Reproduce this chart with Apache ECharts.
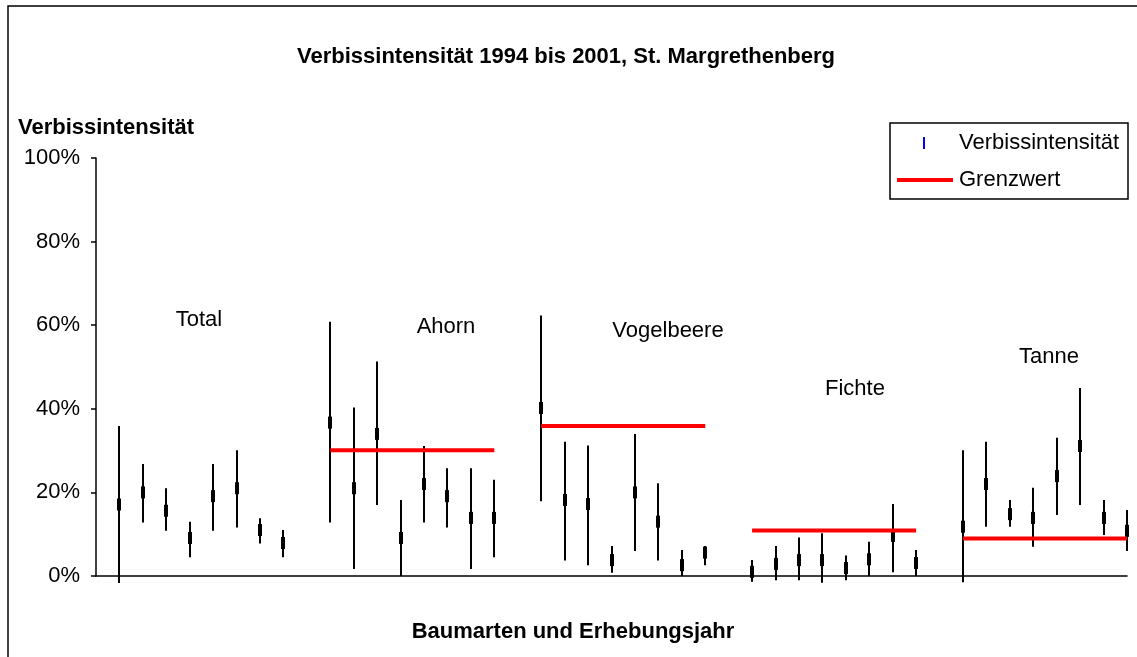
<!DOCTYPE html>
<html lang="de">
<head>
    <meta charset="UTF-8">
    <title>Verbissintensität</title>
    <script src="https://cdn.jsdelivr.net/npm/echarts@6/dist/echarts.min.js"></script>
    <style>
        html, body { margin: 0; padding: 0; background: #fff; }
        #container { width: 1137px; height: 657px; }
    </style>
</head>
<body>
<div id="container"></div>
<script type="text/javascript">
// Baumarten, je 8 Erhebungsjahre (1994 - 2001)
var groups = ['Total', 'Ahorn', 'Vogelbeere', 'Fichte', 'Tanne'];
var years = ['1994', '1995', '1996', '1997', '1998', '1999', '2000', '2001'];

// Verbissintensität in %: hoch / tief / Mittelwert
var highTotal = [35.9, 26.8, 21.0, 13.0, 26.8, 30.1, 13.8, 11.0];
var lowTotal = [-1.7, 12.8, 10.8, 4.5, 10.8, 11.6, 7.8, 4.5];
var meanTotal = [17.1, 20.0, 15.6, 9.1, 19.1, 21.0, 11.0, 7.9];

var highAhorn = [60.8, 40.3, 51.3, 18.2, 31.1, 25.8, 25.8, 23.0];
var lowAhorn = [12.8, 1.7, 17.0, 0.0, 12.8, 11.6, 1.7, 4.5];
var meanAhorn = [36.7, 21.0, 34.0, 9.1, 22.0, 19.1, 13.9, 13.9];

var highVogelbeere = [62.3, 32.1, 31.2, 7.2, 34.0, 22.2, 6.2, 7.2];
var lowVogelbeere = [17.9, 3.7, 2.6, 0.8, 6.0, 3.7, 0.0, 2.6];
var meanVogelbeere = [40.2, 18.2, 17.2, 3.8, 20.0, 13.0, 2.6, 5.6];

var highFichte = [3.8, 7.2, 9.2, 10.2, 4.9, 8.2, 17.2, 6.2];
var lowFichte = [-1.4, -1.0, -1.0, -1.6, -1.0, 0.0, 0.9, 0.0];
var meanFichte = [1.0, 2.9, 3.8, 3.8, 1.9, 4.0, 9.6, 3.1];

var highTanne = [30.1, 32.1, 18.2, 21.1, 33.1, 45.0, 18.2, 15.8];
var lowTanne = [-1.5, 11.8, 11.8, 7.0, 14.6, 17.0, 9.8, 6.0];
var meanTanne = [11.8, 22.0, 14.8, 13.9, 23.9, 31.1, 13.9, 10.8];

// Grenzwert pro Baumart (Total ohne)
var grenzwert = [null, 30.1, 35.9, 10.9, 9.0];

var yTicks = [0, 20, 40, 60, 80, 100];

var highs = [highTotal, highAhorn, highVogelbeere, highFichte, highTanne];
var lows = [lowTotal, lowAhorn, lowVogelbeere, lowFichte, lowTanne];
var means = [meanTotal, meanAhorn, meanVogelbeere, meanFichte, meanTanne];

// Kategorien: eine leere am Anfang, eine leere zwischen den Gruppen
var categories = [''];
var hlcData = [];
var limitData = [null];
for (var g = 0; g < groups.length; g++) {
    if (g > 0) {
        categories.push('');
        limitData.push(null);
    }
    for (var j = 0; j < years.length; j++) {
        var idx = categories.length;
        categories.push(groups[g] + ' ' + years[j]);
        hlcData.push([idx, lows[g][j], highs[g][j], means[g][j]]);
        limitData.push(grenzwert[g]);
    }
}

var font = '"Liberation Sans", Arial, sans-serif';
var fs = 22;

function label(txt, x, y) {
    return {type: 'text', x: x, y: y,
        style: {text: txt, font: fs + 'px ' + font, fill: '#000', textAlign: 'center', textVerticalAlign: 'middle'}};
}

var dom = document.getElementById("container");
var myChart = echarts.init(dom, null, {renderer: 'canvas'});

var option = {
    animation: false,
    backgroundColor: '#fff',
    title: {
        text: 'Verbissintensität 1994 bis 2001, St. Margrethenberg',
        left: 292,
        top: 41,
        textStyle: {fontFamily: font, fontSize: fs, fontWeight: 'bold', color: '#000'}
    },
    grid: {left: 96, right: 10, top: 158, bottom: 81},
    xAxis: {
        type: 'category',
        data: categories,
        boundaryGap: false,
        axisLine: {lineStyle: {color: '#000', width: 1.5}},
        axisTick: {show: false},
        axisLabel: {show: false},
        splitLine: {show: false}
    },
    yAxis: {
        type: 'value',
        min: yTicks[0],
        max: yTicks[yTicks.length - 1],
        interval: 20,
        name: 'Verbissintensität',
        nameLocation: 'end',
        nameGap: 19,
        nameTextStyle: {fontFamily: font, fontSize: fs, fontWeight: 'bold', color: '#000', padding: [0, 0, 0, 20]},
        axisLine: {show: true, lineStyle: {color: '#000', width: 1.5}},
        axisTick: {show: true, length: 5, lineStyle: {color: '#000', width: 1.5}},
        axisLabel: {
            formatter: '{value}%',
            margin: 16,
            fontFamily: font,
            fontSize: fs,
            color: '#000'
        },
        splitLine: {show: false}
    },
    series: [
        {
            name: 'Verbissintensität',
            type: 'custom',
            clip: false,
            z: 2,
            data: hlcData,
            renderItem: function (params, api) {
                var lo = api.coord([api.value(0), api.value(1)]);
                var hi = api.coord([api.value(0), api.value(2)]);
                var c = api.coord([api.value(0), api.value(3)]);
                var x = Math.round(lo[0]);
                return {
                    type: 'group',
                    children: [
                        {
                            type: 'line',
                            shape: {x1: x, y1: lo[1], x2: x, y2: hi[1]},
                            style: {stroke: '#000', lineWidth: 2}
                        },
                        {
                            type: 'rect',
                            shape: {x: x - 2, y: c[1] - 6, width: 4, height: 12},
                            style: {fill: '#000'}
                        }
                    ]
                };
            }
        },
        {
            name: 'Grenzwert',
            type: 'line',
            z: 3,
            data: limitData,
            connectNulls: false,
            showSymbol: false,
            symbol: 'none',
            lineStyle: {color: '#ff0000', width: 4, cap: 'butt'}
        }
    ],
    graphic: [
        // Rahmen
        {type: 'rect', shape: {x: 8, y: 6, width: 1200, height: 700},
            style: {fill: 'none', stroke: '#000', lineWidth: 1.5}, silent: true},
        // Gruppenbeschriftung
        label('Total', 199, 320),
        label('Ahorn', 446, 327),
        label('Vogelbeere', 668, 331),
        label('Fichte', 855, 389),
        label('Tanne', 1049, 357),
        // x-Achsentitel
        {type: 'text', x: 573, y: 632, style: {text: 'Baumarten und Erhebungsjahr', font: 'bold ' + fs + 'px ' + font, fill: '#000', textAlign: 'center', textVerticalAlign: 'middle'}},
        // Legende
        {type: 'rect', shape: {x: 890, y: 123, width: 238, height: 76},
            style: {fill: '#fff', stroke: '#000', lineWidth: 1.5}},
        {type: 'rect', shape: {x: 923, y: 137, width: 2, height: 12}, style: {fill: '#0000ff'}},
        {type: 'text', x: 959, y: 143, style: {text: 'Verbissintensität', font: fs + 'px ' + font, fill: '#000', textVerticalAlign: 'middle'}},
        {type: 'line', shape: {x1: 897, y1: 180, x2: 953, y2: 180}, style: {stroke: '#ff0000', lineWidth: 4}},
        {type: 'text', x: 959, y: 180, style: {text: 'Grenzwert', font: fs + 'px ' + font, fill: '#000', textVerticalAlign: 'middle'}}
    ]
};

if (option && typeof option === "object") {
    myChart.setOption(option, true);
}
</script>
</body>
</html>
